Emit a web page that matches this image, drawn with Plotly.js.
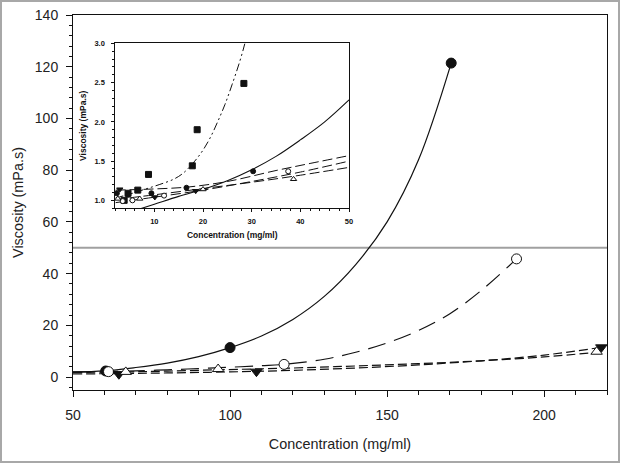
<!DOCTYPE html>
<html>
<head>
<meta charset="utf-8">
<script src="https://cdn.plot.ly/plotly-3.0.1.min.js"></script>
<style>
  html, body { margin: 0; padding: 0; background: #fff; }
  #wrap { position: relative; width: 620px; height: 463px; }
  #plot { width: 620px; height: 463px; }
  #frame { position: absolute; left: 0; top: 0; width: 620px; height: 463px; box-sizing: border-box; border: 2px solid #a8a8a8; pointer-events: none; }
</style>
</head>
<body>
<div id="wrap"><div id="plot"></div><div id="frame"></div></div>
<script>
// ---------- Main plot: measured points ----------
const fcX = [60.4, 100, 170.4];          // filled circles
const fcY = [2.35, 11.4, 121.4];
const ocX = [61.3, 117.2, 191.2];        // open circles
const ocY = [2.1, 4.9, 45.7];
const ftX = [64.6, 108.4, 218.2];        // filled down-triangles
const ftY = [1.1, 2.1, 11.5];
const otX = [66.8, 96.2, 216.7];         // open up-triangles
const otY = [2.0, 3.1, 9.8];

// ---------- Main plot: fitted curves ----------
const fitFcX = [50, 60, 70, 80, 90, 100, 110, 120, 130, 140, 150, 160, 170.4];
const fitFcY = [2.0, 2.4, 3.7, 5.4, 7.9, 11.4, 15.9, 22.3, 31.2, 43.5, 60, 84, 121.4];
const fitOcX = [50, 61.3, 70, 80, 90, 100, 110, 117.2, 130, 140, 150, 160, 170, 180, 191.2];
const fitOcY = [1.9, 2.1, 2.4, 2.8, 3.3, 3.8, 4.4, 4.9, 6.9, 9.6, 13.2, 18, 24.5, 33.5, 45.7];
const fitFtX = [50, 65, 80, 100, 120, 140, 160, 180, 200, 218.2];
const fitFtY = [1.2, 1.35, 1.6, 2.0, 2.6, 3.5, 4.7, 6.3, 8.5, 11.5];
const fitOtX = [50, 67, 80, 96, 120, 140, 160, 180, 200, 216.7];
const fitOtY = [1.8, 2.0, 2.3, 2.8, 3.5, 4.3, 5.2, 6.3, 7.8, 9.6];

// reference line separating the inset
const dividerValue = 50;

// ---------- Inset: measured points ----------
const inSqX = [3.8, 4.6, 6.6, 8.8, 17.8, 18.8, 28.4];
const inSqY = [1.0, 1.09, 1.13, 1.33, 1.44, 1.90, 2.49];
const inFcX = [2.3, 4.6, 9.4, 16.6, 30.3];
const inFcY = [1.09, 1.07, 1.09, 1.16, 1.37];
const inFtX = [2.9, 10.1, 18.5];
const inFtY = [1.14, 1.04, 1.12];
const inOcX = [3.5, 5.5, 12, 37.5];
const inOcY = [0.99, 1.0, 1.06, 1.37];
const inOtX = [2.5, 7, 20, 38.6];
const inOtY = [1.02, 1.02, 1.14, 1.27];

// ---------- Inset: fitted curves ----------
const inFitSqX = [2, 5, 8, 11, 14, 16, 18.3, 20, 21.5, 23, 24.5, 26, 27.5, 28.6, 29.5];
const inFitSqY = [1.03, 1.08, 1.14, 1.2, 1.27, 1.35, 1.5, 1.64, 1.8, 2.0, 2.22, 2.48, 2.76, 3.0, 3.25];
const inFitSolX = [5, 10, 15, 20, 25, 30, 35, 40, 45, 50];
const inFitSolY = [0.85, 0.95, 1.05, 1.14, 1.25, 1.39, 1.56, 1.77, 2.0, 2.28];
const inFitAX = [2, 10, 20, 30, 40, 50];
const inFitAY = [0.97, 1.04, 1.13, 1.24, 1.36, 1.50];
const inFitBX = [2, 10, 20, 30, 40, 50];
const inFitBY = [1.01, 1.07, 1.15, 1.23, 1.32, 1.42];
const inFitCX = [2, 10, 17, 25, 35, 42, 50];
const inFitCY = [1.13, 1.145, 1.17, 1.24, 1.38, 1.47, 1.57];

const FONT = 'Liberation Sans, Arial, sans-serif';
const INK = '#111';

function curve(x, y, dash, width, xa, ya) {
  return { x: x, y: y, mode: 'lines', xaxis: xa || 'x', yaxis: ya || 'y',
    line: { color: INK, width: width || 1.2, dash: dash || 'solid', shape: 'spline', smoothing: 1 },
    hoverinfo: 'skip', showlegend: false };
}
function pts(x, y, symbol, size, fill, xa, ya) {
  return { x: x, y: y, mode: 'markers', xaxis: xa || 'x', yaxis: ya || 'y', cliponaxis: false,
    marker: { symbol: symbol, size: size, color: fill, line: { color: INK, width: 1 } },
    hoverinfo: 'skip', showlegend: false };
}

const traces = [
  curve(fitFcX, fitFcY, 'solid', 1.2),
  curve(fitOcX, fitOcY, '18px,9px', 1.2),
  curve(fitFtX, fitFtY, '9px,4px', 1.2),
  curve(fitOtX, fitOtY, '9px,4px', 1.2),
  pts(fcX, fcY, 'circle', 10, INK),
  pts(ocX, ocY, 'circle', 10, '#fff'),
  pts(ftX, ftY, 'triangle-down', 10, INK),
  pts(otX, otY, 'triangle-up', 10, '#fff'),

  curve(inFitSqX, inFitSqY, '8px,3px,2px,3px,2px,3px', 1, 'x2', 'y2'),
  curve(inFitSolX, inFitSolY, 'solid', 1.1, 'x2', 'y2'),
  curve(inFitAX, inFitAY, '10px,4px', 1, 'x2', 'y2'),
  curve(inFitBX, inFitBY, '10px,4px', 1, 'x2', 'y2'),
  curve(inFitCX, inFitCY, '10px,4px', 1, 'x2', 'y2'),
  pts(inSqX, inSqY, 'square', 6, INK, 'x2', 'y2'),
  pts(inFcX, inFcY, 'circle', 5, INK, 'x2', 'y2'),
  pts(inFtX, inFtY, 'triangle-down', 5.5, INK, 'x2', 'y2'),
  pts(inOcX, inOcY, 'circle', 5, '#fff', 'x2', 'y2'),
  pts(inOtX, inOtY, 'triangle-up', 5.5, '#fff', 'x2', 'y2')
];

const axBase = { showgrid: false, zeroline: false, showline: true, mirror: true,
  linecolor: INK, linewidth: 1, ticks: 'outside', tickcolor: INK };

const layout = {
  width: 620, height: 463,
  margin: { l: 73, r: 13, t: 15, b: 73 },
  paper_bgcolor: '#fff', plot_bgcolor: 'rgba(0,0,0,0)',
  font: { family: FONT, color: INK },
  xaxis: Object.assign({}, axBase, {
    range: [50, 220], tick0: 0, dtick: 50, ticklen: 6, ticklabelstandoff: 6,
    minor: { dtick: 10, ticklen: 4, ticks: 'outside', tickcolor: INK },
    tickfont: { size: 14, family: FONT, color: '#222' },
    title: { text: 'Concentration (mg/ml)', font: { size: 14.4, family: FONT, color: '#222' }, standoff: 17 }
  }),
  yaxis: Object.assign({}, axBase, {
    range: [-5, 140], tick0: 0, dtick: 20, ticklen: 6, ticklabelstandoff: 5,
    minor: { dtick: 4, ticklen: 3, ticks: 'outside', tickcolor: INK },
    tickfont: { size: 14, family: FONT, color: '#222' },
    title: { text: 'Viscosity (mPa.s)', font: { size: 14.4, family: FONT, color: '#222' }, standoff: 7 }
  }),
  xaxis2: Object.assign({}, axBase, {
    anchor: 'y2', domain: [0.0794, 0.5169], range: [2, 50], tick0: 0, dtick: 10,
    ticklen: 3, ticklabelstandoff: 3,
    minor: { dtick: 2, ticklen: 2, ticks: 'outside', tickcolor: INK },
    tickfont: { size: 7.5, family: FONT, weight: 'bold', color: INK },
    title: { text: 'Concentration (mg/ml)', font: { size: 8.5, family: FONT, weight: 'bold', color: INK }, standoff: 6 }
  }),
  yaxis2: Object.assign({}, axBase, {
    anchor: 'x2', domain: [0.4849, 0.9242], range: [0.9, 3.0], tick0: 0, dtick: 0.5,
    tickformat: '.1f', ticklen: 3, ticklabelstandoff: 5,
    minor: { dtick: 0.1, ticklen: 2, ticks: 'outside', tickcolor: INK },
    tickfont: { size: 7.5, family: FONT, weight: 'bold', color: INK },
    title: { text: 'Viscosity (mPa.s)', font: { size: 8.5, family: FONT, weight: 'bold', color: INK }, standoff: 6 }
  }),
  shapes: [
    { type: 'line', xref: 'x domain', yref: 'y', x0: 0, x1: 1, y0: dividerValue, y1: dividerValue,
      line: { color: '#a0a0a0', width: 2 }, layer: 'below' }
  ]
};

Plotly.newPlot('plot', traces, layout, { staticPlot: true, displayModeBar: false });
</script>
</body>
</html>
